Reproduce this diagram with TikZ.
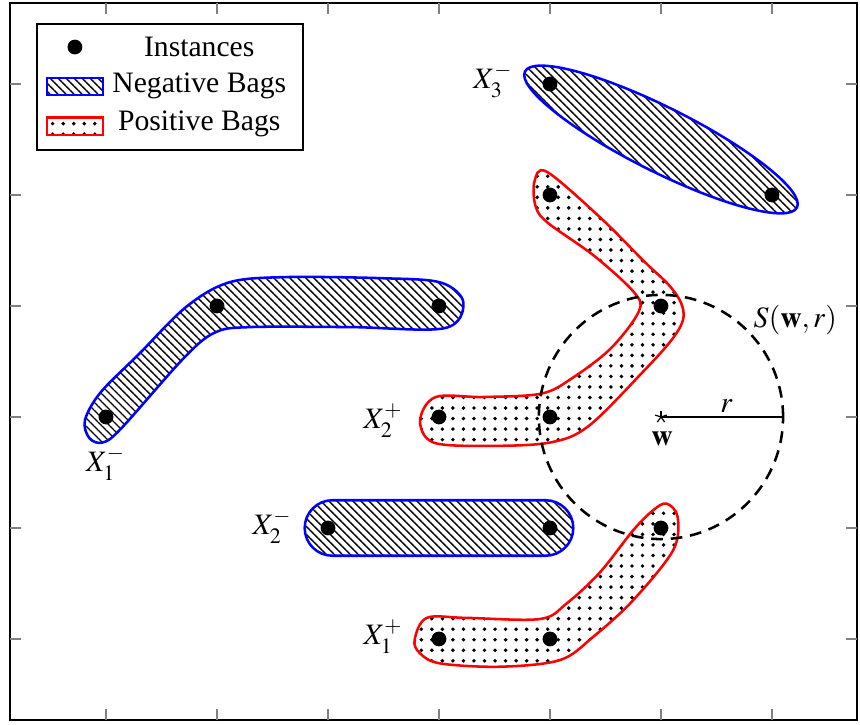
\documentclass[tikz,border=0pt]{standalone}
\usepackage{mathptmx}
\usepackage[no-math]{fontspec}
\setmainfont{Liberation Serif}
\usepackage{tikz}
\usetikzlibrary{patterns.meta}

\tikzset{
  bagline/.style={line width=0.65pt},
  negbag/.style={bagline, draw=blue, pattern={Lines[angle=-45,distance=1.45pt,line width=0.35pt]}, pattern color=black},
  posbag/.style={bagline, draw=red, pattern={Dots[distance=2.7pt,radius=0.5pt]}, pattern color=black},
  axistick/.style={gray, line width=0.3pt},
}

\begin{document}
\begin{tikzpicture}[font=\fontsize{7.6}{9}\selectfont]
    \useasboundingbox (0.045,0.234) rectangle (7.793,6.757);

    % axis frame and ticks
    \draw[line width=0.6pt] (0.135,0.27) rectangle (7.766,6.73);
    \foreach \x in {1,...,7} {
        \draw[axistick] (\x,0.27) -- ++(0,0.1);
        \draw[axistick] (\x,6.73) -- ++(0,-0.1);
    }
    \foreach \y in {1,...,6} {
        \draw[axistick] (0.135,\y) -- ++(0.1,0);
        \draw[axistick] (7.766,\y) -- ++(-0.1,0);
    }

    % instances
    \coordinate (n11) at (1,3);
    \coordinate (n12) at (2,4);
    \coordinate (n13) at (4,4);
    \coordinate (n21) at (3,2);
    \coordinate (n22) at (5,2);
    \coordinate (n31) at (5,6);
    \coordinate (n32) at (7,5);
    \coordinate (p11) at (4,1);
    \coordinate (p12) at (5,1);
    \coordinate (p13) at (6,2);
    \coordinate (p21) at (4,3);
    \coordinate (p22) at (5,3);
    \coordinate (p23) at (6,4);
    \coordinate (p24) at (5,5);
    \coordinate (w) at (6,3);
    \coordinate (wr) at (7.1,3);

    % negative bags
    \draw[negbag] plot[smooth cycle, tension=0.55] coordinates {(0.81,2.97) (0.95,3.22) (1.30,3.57) (1.72,3.99) (2.10,4.21) (2.60,4.26) (3.50,4.25) (4.02,4.21) (4.22,4.03) (4.05,3.80) (3.20,3.81) (2.30,3.81) (1.98,3.76) (1.70,3.53) (1.14,2.90) (0.97,2.77) (0.85,2.81)};
    \draw[negbag, rounded corners=0.25cm] (2.79,1.75) rectangle (5.21,2.25);
    \draw[negbag, rotate around={-26.57:(6,5.5)}] (6,5.5) ellipse (1.37 and 0.29);

    % positive bags
    \draw[posbag] plot[smooth cycle, tension=0.55] coordinates {(3.78,0.99) (3.89,1.19) (4.25,1.19) (4.91,1.18) (5.15,1.32) (5.45,1.60) (5.75,1.98) (5.93,2.16) (6.05,2.22) (6.15,2.10) (6.11,1.80) (5.75,1.35) (5.39,1.02) (5.09,0.81) (4.55,0.75) (4.01,0.78) (3.83,0.87)};
    \draw[posbag] plot[smooth cycle, tension=0.55] coordinates {(4.97,5.21) (5.45,4.80) (5.85,4.40) (6.07,4.19) (6.18,4.03) (6.20,3.88) (6.10,3.70) (5.85,3.42) (5.35,2.92) (5.00,2.77) (4.45,2.74) (3.95,2.77) (3.83,2.97) (3.97,3.18) (4.40,3.18) (4.92,3.21) (5.20,3.35) (5.55,3.62) (5.80,3.95) (5.76,4.12) (5.40,4.45) (4.98,4.75) (4.87,4.90) (4.86,5.12)};

    \foreach \i in {n11,n12,n13,n21,n22,n31,n32,p11,p12,p13,p21,p22,p23,p24}
        \fill (\i) circle (1.9pt);

    % sphere S(w,r)
    \draw[line width=0.65pt, dash pattern=on 3pt off 2pt] (w) circle (1.1);
    \draw[line width=0.4pt] (w) -- (wr);
    \foreach \a in {18,90,162,234,306}
        \draw[line width=0.3pt] (w) -- ++(\a:1.6pt);

    % labels
    \node (lbl-n1) at (1.00,2.58) {$X_1^-$};
    \node (lbl-n2) at (2.50,2.01) {$X_2^-$};
    \node (lbl-n3) at (4.49,6.03) {$X_3^-$};
    \node (lbl-p1) at (3.50,1.02) {$X_1^+$};
    \node (lbl-p2) at (3.50,2.97) {$X_2^+$};
    \node (lbl-s) at (7.21,3.87) {$S(\mathbf{w},r)$};
    \node (lbl-r) at (6.59,3.10) {$r$};
    \node (lbl-w) at (6.01,2.80) {$\mathbf{w}$};

    % legend
    \draw[line width=0.65pt, fill=white] (0.378,5.405) rectangle (2.775,6.54);
    \fill (0.72,6.333) circle (1.9pt);
    \draw[negbag] (0.468,5.90) rectangle (0.973,6.054);
    \draw[posbag] (0.468,5.54) rectangle (0.973,5.70);
    \node (leg-inst) at (1.84,6.333) {Instances};
    \node (leg-neg) at (1.84,5.982) {Negative Bags};
    \node (leg-pos) at (1.84,5.640) {Positive Bags};
\end{tikzpicture}
\end{document}
